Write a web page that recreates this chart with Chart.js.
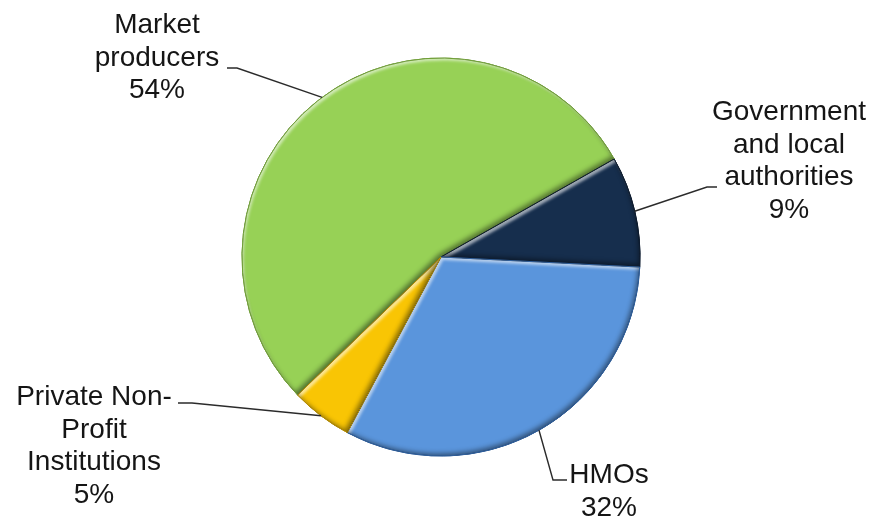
<!DOCTYPE html>
<html>
<head>
<meta charset="utf-8">
<script src="https://cdn.jsdelivr.net/npm/chart.js@4/dist/chart.umd.min.js"></script>
<style>
  html, body { margin: 0; padding: 0; background: #fff; }
  #wrap { width: 873px; height: 520px; }
</style>
</head>
<body>
<div id="wrap"><canvas id="sectorChart" width="873" height="520"></canvas></div>
<script>
// Health expenditure by financing sector (share of total)
const sectors = ["Market producers", "Government and local authorities", "HMOs", "Private Non-Profit Institutions"];
const shares = [54, 9, 32, 5];
const labelLines = [
  ["Market", "producers", "54%"],
  ["Government", "and local", "authorities", "9%"],
  ["HMOs", "32%"],
  ["Private Non-", "Profit", "Institutions", "5%"]
];
const sliceColors = ["#97d156", "#162e4d", "#5a95dc", "#f9c504"];
const edgeColors = ["#6f9e36", "#0b1a2e", "#2f5f9c", "#b88e00"];

// label anchor (text centre x, first baseline y) and leader elbow/end
const labelPlace = [
  { x: 157, y: 33, elbow: [237, 68], end: [227, 68] },
  { x: 789, y: 120, elbow: [707, 187], end: [717, 187] },
  { x: 609, y: 483, elbow: [553, 480], end: [567, 480] },
  { x: 94, y: 405, elbow: [192, 403], end: [178, 403] }
];
const lineGap = 32.5;

function slicePath(ctx, p) {
  ctx.beginPath();
  ctx.moveTo(p.x, p.y);
  ctx.arc(p.x, p.y, p.outerRadius, p.startAngle, p.endAngle);
  ctx.closePath();
}

// soft bevel: light rim on the upper-left edges, dark rim on the lower-right
const bevel = {
  id: "bevel",
  afterDatasetsDraw(chart) {
    const ctx = chart.ctx;
    const W = chart.width, H = chart.height;
    chart.getDatasetMeta(0).data.forEach((arc, i) => {
      const p = arc.getProps(["x", "y", "startAngle", "endAngle", "outerRadius"], true);
      const shades = [
        { color: "rgba(255,255,255,0.6)", dx: 2, dy: 3, blur: 3 },
        { color: "rgba(0,0,0,0.45)", dx: -2, dy: -3, blur: 5 }
      ];
      shades.forEach(s => {
        ctx.save();
        slicePath(ctx, p);
        ctx.clip();
        ctx.beginPath();
        ctx.rect(-W, -H, W * 3, H * 3);
        ctx.moveTo(p.x, p.y);
        ctx.arc(p.x, p.y, p.outerRadius + 0.5, p.startAngle, p.endAngle);
        ctx.closePath();
        ctx.shadowColor = s.color;
        ctx.shadowBlur = s.blur;
        ctx.shadowOffsetX = s.dx;
        ctx.shadowOffsetY = s.dy;
        ctx.fillStyle = "#000";
        ctx.fill("evenodd");
        ctx.restore();
      });
      ctx.save();
      slicePath(ctx, p);
      ctx.lineWidth = 1;
      ctx.strokeStyle = edgeColors[i];
      ctx.stroke();
      ctx.restore();
    });
  }
};

// category + percentage labels with leader lines
const sliceLabels = {
  id: "sliceLabels",
  afterDraw(chart) {
    const ctx = chart.ctx;
    chart.getDatasetMeta(0).data.forEach((arc, i) => {
      const p = arc.getProps(["x", "y", "startAngle", "endAngle", "outerRadius"], true);
      const mid = (p.startAngle + p.endAngle) / 2;
      const sx = p.x + Math.cos(mid) * p.outerRadius;
      const sy = p.y + Math.sin(mid) * p.outerRadius;
      const lp = labelPlace[i];
      ctx.save();
      ctx.strokeStyle = "#2b2b2b";
      ctx.lineWidth = 1.4;
      ctx.beginPath();
      ctx.moveTo(sx, sy);
      ctx.lineTo(lp.elbow[0], lp.elbow[1]);
      ctx.lineTo(lp.end[0], lp.end[1]);
      ctx.stroke();
      ctx.fillStyle = "#151515";
      ctx.font = '28px "Liberation Sans", Arial, sans-serif';
      ctx.textAlign = "center";
      ctx.textBaseline = "alphabetic";
      labelLines[i].forEach((t, k) => ctx.fillText(t, lp.x, lp.y + k * lineGap));
      ctx.restore();
    });
  }
};

new Chart(document.getElementById("sectorChart"), {
  type: "pie",
  data: {
    labels: sectors,
    datasets: [{
      data: shares,
      backgroundColor: sliceColors,
      borderColor: edgeColors,
      borderWidth: 1
    }]
  },
  options: {
    responsive: false,
    animation: false,
    rotation: -133.9,
    radius: 199,
    layout: { padding: { top: 50, bottom: 56, left: 100, right: 91 } },
    plugins: {
      legend: { display: false },
      tooltip: { enabled: false }
    }
  },
  plugins: [bevel, sliceLabels]
});
</script>
</body>
</html>
